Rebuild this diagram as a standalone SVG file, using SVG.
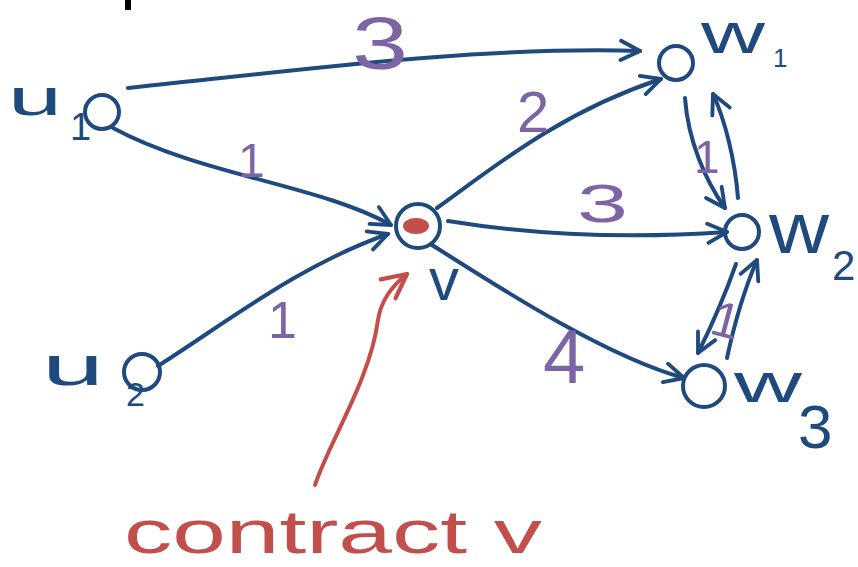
<svg xmlns="http://www.w3.org/2000/svg" width="858" height="567" viewBox="0 0 858 567">
<style>
.node{fill:none;stroke:#1f4a7e;stroke-width:4}
.edge{fill:none;stroke:#1f4a7e;stroke-width:4;stroke-linecap:round;marker-end:url(#ah)}
.lbl{font-family:"Liberation Sans",Arial,sans-serif;fill:#1f4a7e}
.w{font-family:"Liberation Sans",Arial,sans-serif;fill:#7d65a5}
.red{font-family:"Liberation Sans",Arial,sans-serif;fill:#c24f4b}
</style>
<defs>
<marker id="ah" viewBox="0 0 20 20" refX="18" refY="10" markerWidth="24" markerHeight="24" markerUnits="userSpaceOnUse" orient="auto">
<path d="M2,2 L18,10 L2,18" fill="none" stroke="#1f4a7e" stroke-width="3.2" stroke-linecap="round" stroke-linejoin="round"/>
</marker>
<marker id="ahr" viewBox="0 0 20 20" refX="18" refY="10" markerWidth="30" markerHeight="30" markerUnits="userSpaceOnUse" orient="auto">
<path d="M2,2 L18,10 L2,18" fill="none" stroke="#c24f4b" stroke-width="2.8" stroke-linecap="round" stroke-linejoin="round"/>
</marker>
</defs>
<rect width="858" height="567" fill="#ffffff"/>
<rect x="125" y="0" width="6" height="10" fill="#000000"/>

<g id="connectors">
<path class="edge" d="M128,88 C 300,70 480,46 640,51"/>
<path class="edge" d="M113,128 C 200,175 320,185 391,225"/>
<path class="edge" d="M158,366 C 230,320 300,265 388,234"/>
<path class="edge" d="M437,208 C 490,170 560,112 661,79"/>
<path class="edge" d="M448,221 C 540,236 640,238 727,232"/>
<path class="edge" d="M432,245 C 480,275 600,355 684,378"/>
<path class="edge" d="M685,98 C 688,140 705,180 725,208"/>
<path class="edge" d="M738,198 C 735,160 725,120 713,94"/>
<path class="edge" d="M736,264 C 725,295 712,325 698,353"/>
<path class="edge" d="M727,358 C 733,330 742,295 757,260"/>
</g>

<g id="edge-labels">
<text class="w" x="352" y="69" font-size="74" textLength="56" lengthAdjust="spacingAndGlyphs">3</text>
<text class="w" x="238" y="177" font-size="48">1</text>
<text class="w" x="268" y="338" font-size="52">1</text>
<text class="w" x="517" y="132" font-size="58">2</text>
<text class="w" x="577" y="222" font-size="54" textLength="51" lengthAdjust="spacingAndGlyphs">3</text>
<text class="w" x="543" y="383" font-size="76">4</text>
<text class="w" x="694" y="173" font-size="46">1</text>
<text class="w" x="0" y="0" font-size="50" transform="translate(708,333) rotate(15)">1</text>
</g>

<g id="u1">
<circle class="node" cx="102" cy="112" r="17"/>
<text class="lbl" x="8" y="115" font-size="52" textLength="54" lengthAdjust="spacingAndGlyphs">u</text>
<text class="lbl" x="70" y="140" font-size="38">1</text>
</g>
<g id="u2">
<circle class="node" cx="142" cy="372" r="18"/>
<text class="lbl" x="42" y="385" font-size="56" textLength="62" lengthAdjust="spacingAndGlyphs">u</text>
<text class="lbl" x="126" y="406" font-size="34">2</text>
</g>
<g id="v">
<circle class="node" cx="418" cy="226" r="22"/>
<ellipse cx="416" cy="226" rx="13" ry="8" fill="#c24f4b"/>
<text class="lbl" x="429" y="300" font-size="60">v</text>
</g>
<g id="w1">
<circle class="node" cx="676" cy="63" r="17"/>
<text class="lbl" x="701" y="53" font-size="58" textLength="64" lengthAdjust="spacingAndGlyphs">w</text>
<text class="lbl" x="773" y="67" font-size="26">1</text>
</g>
<g id="w2">
<circle class="node" cx="742" cy="232" r="17"/>
<text class="lbl" x="769" y="253" font-size="72" textLength="60" lengthAdjust="spacingAndGlyphs">w</text>
<text class="lbl" x="832" y="280" font-size="42">2</text>
</g>
<g id="w3">
<circle class="node" cx="704" cy="386" r="21"/>
<text class="lbl" x="734" y="402" font-size="56" textLength="68" lengthAdjust="spacingAndGlyphs">w</text>
<text class="lbl" x="798" y="448" font-size="62">3</text>
</g>

<g id="annotation">
<path d="M315,485 C 330,440 370,380 378,320 C 381,300 393,285 407,274" fill="none" stroke="#c24f4b" stroke-width="4" stroke-linecap="round" marker-end="url(#ahr)"/>
<text class="red" x="124" y="553" font-size="62" textLength="418" lengthAdjust="spacingAndGlyphs">contract v</text>
</g>
</svg>
